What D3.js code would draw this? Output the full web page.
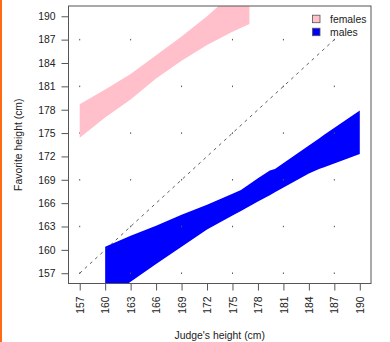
<!DOCTYPE html>
<html>
<head>
<meta charset="utf-8">
<script src="https://cdn.jsdelivr.net/npm/d3@7"></script>
<style>
  html, body { margin: 0; padding: 0; background: #fff; }
  svg { display: block; }
  text { font-family: "Liberation Sans", Arial, Helvetica, sans-serif; fill: #222; }
</style>
</head>
<body>
<svg id="chart" width="390" height="342"></svg>
<script>
// Judge's height (x) vs. favourite height (y): band limits per group
const femaleX     = [157,   160,   163,   166,   169,   172,   175,   177];
const femaleUpper = [178.7, 180.6, 182.6, 185.0, 187.4, 190.0, 192.9, 194.8];
const femaleLower = [174.4, 177.0, 179.3, 182.0, 184.3, 186.3, 188.0, 189.0];

const maleX     = [160,   163,   166,   169,   172,   175,   176,   178,   179.4, 180,   184,   185.2, 185.8, 190];
const maleUpper = [160.4, 161.8, 163.1, 164.5, 165.8, 167.2, 167.7, 169.2, 170.2, 170.4, 173.4, 174.3, 174.8, 177.9];
const maleLower = [153.6, 155.9, 158.2, 160.4, 162.6, 164.4, 165.0, 166.2, 167.0, 167.4, 169.8, 170.4, 170.6, 172.3];

const tickValues = [157, 160, 163, 166, 169, 172, 175, 178, 181, 184, 187, 190];
const gridValues = [157, 163, 169, 175, 181, 187];
const diagonal   = [157, 187];
const axisRange  = [157, 190];

const legendLabels = ["females", "males"];
const legendFills  = ["#FFC0CB", "#0000FF"];

const svg = d3.select("#chart");
const plotLeft = 68.5, plotRight = 371, plotTop = 6, plotBottom = 283.5;

// 4% padding around the axis range on both sides
const pad = (axisRange[1] - axisRange[0]) * 0.04;
const x = d3.scaleLinear().domain([axisRange[0] - pad, axisRange[1] + pad]).range([plotLeft, plotRight]);
const y = d3.scaleLinear().domain([axisRange[0] - pad, axisRange[1] + pad]).range([plotBottom, plotTop]);

// thin orange strip along the left edge
svg.append("rect").attr("x", 0).attr("y", 0).attr("width", 2).attr("height", 342).attr("fill", "#FF6A13");

svg.append("defs").append("clipPath").attr("id", "plotClip")
  .append("rect").attr("x", plotLeft).attr("y", plotTop)
  .attr("width", plotRight - plotLeft).attr("height", plotBottom - plotTop);

const plot = svg.append("g").attr("clip-path", "url(#plotClip)");

const band = (xs, lo, hi) => d3.area()
  .x((d, i) => x(xs[i]))
  .y0((d, i) => y(lo[i]))
  .y1((d, i) => y(hi[i]))(xs);

// males band
plot.append("path").attr("d", band(maleX, maleLower, maleUpper)).attr("fill", legendFills[1]);

// dotted reference grid
const gridPts = [];
gridValues.forEach(gx => gridValues.forEach(gy => gridPts.push([gx, gy])));
plot.selectAll("rect.dot").data(gridPts).join("rect")
  .attr("class", "dot")
  .attr("x", d => x(d[0]) - 0.5).attr("y", d => y(d[1]) - 0.75)
  .attr("width", 1).attr("height", 1.5)
  .attr("fill", "#555");

// females band
plot.append("path").attr("d", band(femaleX, femaleLower, femaleUpper)).attr("fill", legendFills[0]);

// y = x reference line
plot.append("line")
  .attr("x1", x(diagonal[0])).attr("y1", y(diagonal[0]))
  .attr("x2", x(diagonal[1])).attr("y2", y(diagonal[1]))
  .attr("stroke", "#333").attr("stroke-width", 0.8).attr("stroke-dasharray", "3,4");

// axes
const axisColor = "#555";
const gx = svg.append("g").attr("transform", `translate(0,${plotBottom})`)
  .call(d3.axisBottom(x).tickValues(tickValues).tickSize(7).tickFormat(d3.format("d")));
gx.select(".domain").remove();
gx.selectAll(".tick line").attr("stroke", axisColor);
gx.selectAll("text")
  .attr("transform", "rotate(-90)")
  .attr("x", -13).attr("y", 0).attr("dy", "0.35em")
  .attr("text-anchor", "end")
  .style("font-size", "10.4px").style("fill", "#222");

const gy = svg.append("g").attr("transform", `translate(${plotLeft},0)`)
  .call(d3.axisLeft(y).tickValues(tickValues).tickSize(7).tickPadding(6).tickFormat(d3.format("d")));
gy.select(".domain").remove();
gy.selectAll(".tick line").attr("stroke", axisColor);
gy.selectAll("text").style("font-size", "10.4px").style("fill", "#222");

// plot frame
svg.append("rect")
  .attr("x", plotLeft).attr("y", plotTop)
  .attr("width", plotRight - plotLeft).attr("height", plotBottom - plotTop)
  .attr("fill", "none").attr("stroke", axisColor).attr("stroke-width", 1);

// axis titles
svg.append("text").attr("x", (plotLeft + plotRight) / 2).attr("y", 339)
  .attr("text-anchor", "middle").style("font-size", "10.4px").text("Judge's height (cm)");
svg.append("text")
  .attr("transform", `translate(22,${(plotTop + plotBottom) / 2}) rotate(-90)`)
  .attr("text-anchor", "middle").style("font-size", "10.4px").text("Favorite height (cm)");

// legend
const legend = svg.append("g");
legendLabels.forEach((lab, i) => {
  const ly = 19 + i * 13;
  legend.append("rect").attr("x", 312.5).attr("y", ly - 3.8).attr("width", 7.5).attr("height", 7.5)
    .attr("fill", legendFills[i]).attr("stroke", "#555").attr("stroke-width", 0.8);
  legend.append("text").attr("x", 330).attr("y", ly).attr("dy", "0.35em")
    .style("font-size", "10.4px").text(lab);
});
</script>
</body>
</html>
